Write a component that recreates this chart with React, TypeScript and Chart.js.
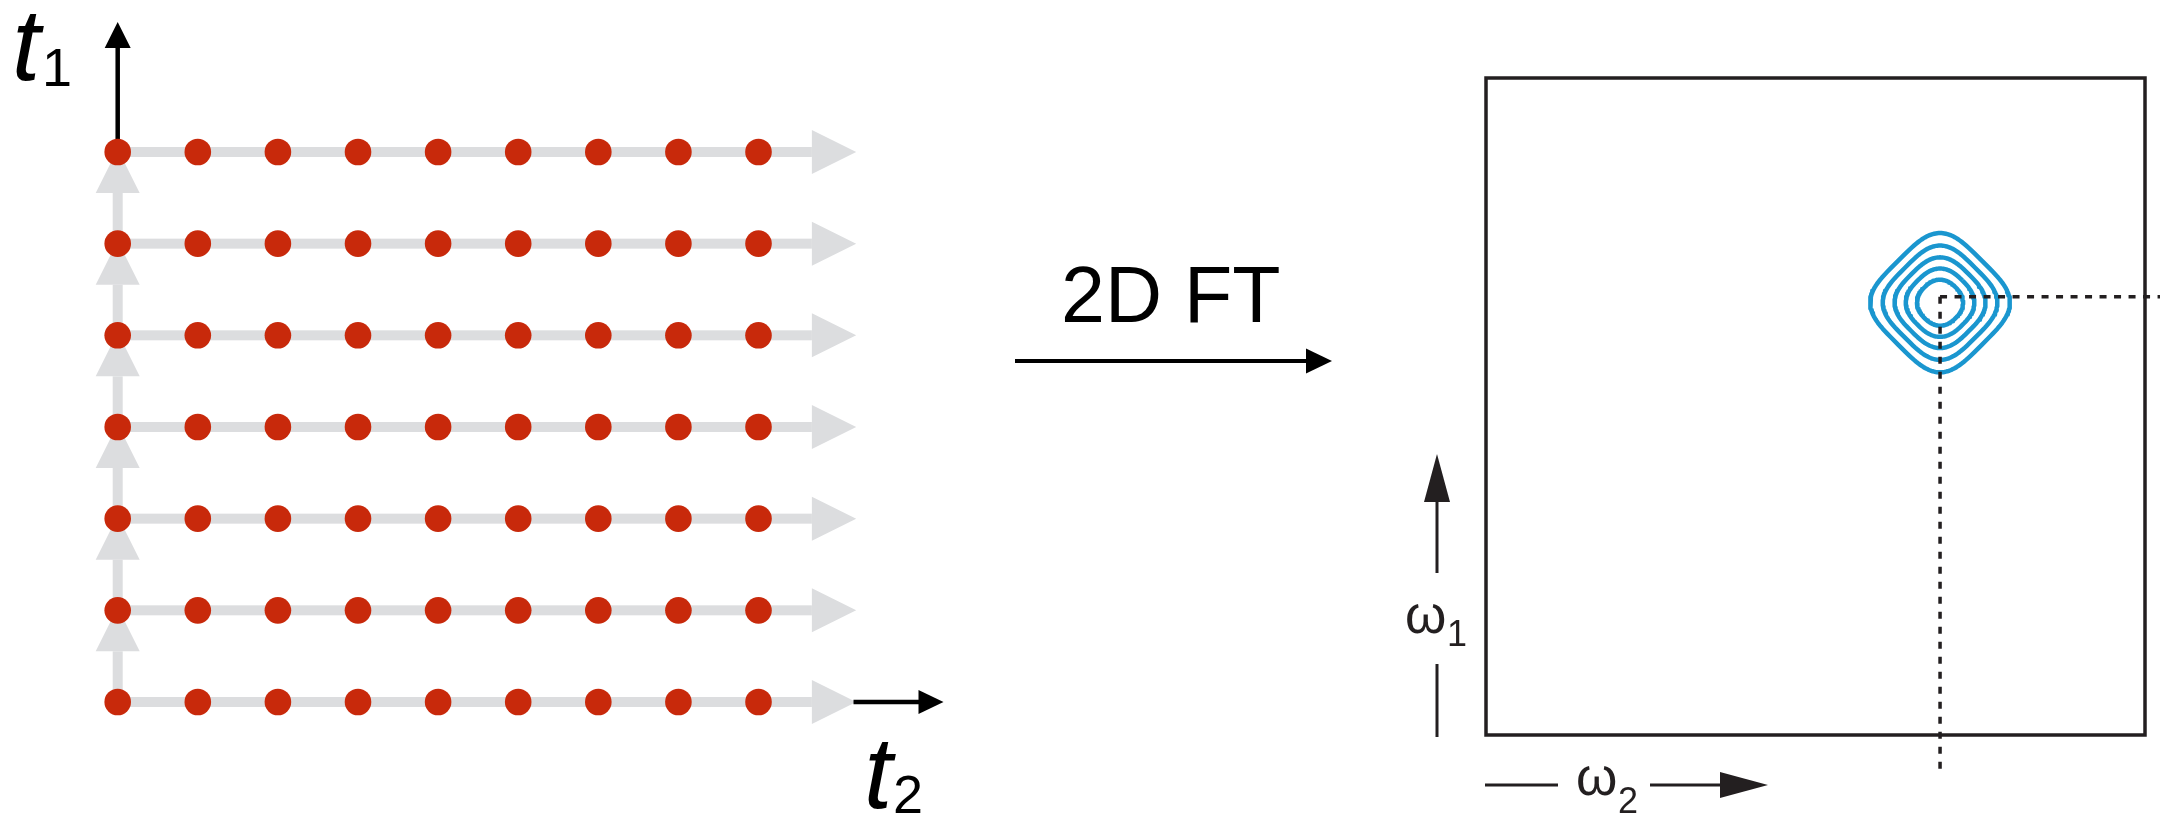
import React, { useEffect, useRef } from "react";
import { Chart, registerables } from "chart.js";

Chart.register(...registerables);

// ---------- data ----------
// sampling grid of the 2D experiment (index along t2, index along t1)
const T2_SAMPLES = [0, 1, 2, 3, 4, 5, 6, 7, 8];
const T1_SAMPLES = [0, 1, 2, 3, 4, 5, 6];

// 2D spectrum (frequency units, box spans 0..10 on both axes)
const W_RANGE = [0, 10];
const PEAK_W2 = 6.89;
const PEAK_W1 = 6.58;
const CROSS_W1 = 6.67;
const CROSS_W2_END = 10.4;
const CROSS_W1_END = -0.57;
// contour levels: half-extent along the axes, and diagonal/axial extent ratio
const CONTOUR_RADII = [0.35, 0.52, 0.69, 0.87, 1.06];
const CONTOUR_DIAGONAL = [0.95, 0.92, 0.89, 0.865, 0.85];

// texts
const LABEL_T = "t";
const LABEL_T1_SUB = "1";
const LABEL_T2_SUB = "2";
const LABEL_FT = "2D FT";
const LABEL_W = "\u03c9";
const LABEL_W1_SUB = "1";
const LABEL_W2_SUB = "2";

// ---------- layout (pixels) ----------
const W = 2160;
const H = 814;
const GRID_X0 = 117.7;
const GRID_DX = 80.1;
const GRID_Y0 = 702;
const GRID_DY = 91.67;
const BOX_LEFT = 1486;
const BOX_RIGHT = 2145;
const BOX_TOP = 78;
const BOX_BOTTOM = 735;

const RED = "#c8290b";
const GRAY = "#dcdddf";
const BLUE = "#1a96cf";
const INK = "#231f20";

// rounded-diamond outline (a superellipse turned by 45 degrees)
function contourPoints(r: number, diag: number) {
  const n = 1 / Math.log2(diag * Math.SQRT2);
  const a = r * diag;
  const e = 2 / n;
  const pts: { x: number; y: number }[] = [];
  const steps = 160;
  for (let i = 0; i <= steps; i++) {
    const p = (i / steps) * Math.PI * 2;
    const c = Math.cos(p);
    const s = Math.sin(p);
    const u = a * Math.sign(c) * Math.pow(Math.abs(c), e);
    const v = a * Math.sign(s) * Math.pow(Math.abs(s), e);
    pts.push({ x: PEAK_W2 + (u - v) / Math.SQRT2, y: PEAK_W1 + (u + v) / Math.SQRT2 });
  }
  return pts;
}

function tri(ctx: CanvasRenderingContext2D, pts: number[][], color: string) {
  ctx.beginPath();
  ctx.moveTo(pts[0][0], pts[0][1]);
  for (let i = 1; i < pts.length; i++) ctx.lineTo(pts[i][0], pts[i][1]);
  ctx.closePath();
  ctx.fillStyle = color;
  ctx.fill();
}

function line(ctx: CanvasRenderingContext2D, x1: number, y1: number, x2: number, y2: number, w: number, color: string) {
  ctx.beginPath();
  ctx.moveTo(x1, y1);
  ctx.lineTo(x2, y2);
  ctx.lineWidth = w;
  ctx.strokeStyle = color;
  ctx.lineCap = "butt";
  ctx.stroke();
}

const diagramPlugin = {
  id: "diagram",
  beforeDatasetsDraw(chart: any) {
    const ctx: CanvasRenderingContext2D = chart.ctx;
    const sx = chart.scales.x;
    const sy = chart.scales.y;
    const lastC = T2_SAMPLES[T2_SAMPLES.length - 1];
    const x0 = sx.getPixelForValue(T2_SAMPLES[0]);
    const xl = sx.getPixelForValue(lastC);
    ctx.save();
    // gray horizontal arrows (t2 acquisition)
    T1_SAMPLES.forEach((r) => {
      const y = sy.getPixelForValue(r);
      ctx.fillStyle = GRAY;
      ctx.fillRect(x0, y - 5, xl + 53.4 - x0, 10);
      tri(ctx, [[xl + 53.4, y - 22], [xl + 97.7, y], [xl + 53.4, y + 22]], GRAY);
    });
    // gray vertical arrows (t1 increments)
    for (let i = 0; i < T1_SAMPLES.length - 1; i++) {
      const yA = sy.getPixelForValue(T1_SAMPLES[i]);
      const yB = sy.getPixelForValue(T1_SAMPLES[i + 1]);
      ctx.fillStyle = GRAY;
      ctx.fillRect(x0 - 5, yB + 41, 10, yA - yB - 41);
      tri(ctx, [[x0 - 22, yB + 41], [x0, yB - 3], [x0 + 22, yB + 41]], GRAY);
    }
    // black t1 axis arrow
    const yTop = sy.getPixelForValue(T1_SAMPLES[T1_SAMPLES.length - 1]);
    line(ctx, x0, yTop, x0, yTop - 106, 4.5, "#000");
    tri(ctx, [[x0 - 13, yTop - 104], [x0, yTop - 130], [x0 + 13, yTop - 104]], "#000");
    // black t2 axis arrow
    const yBot = sy.getPixelForValue(T1_SAMPLES[0]);
    line(ctx, xl + 95, yBot, xl + 162, yBot, 4.5, "#000");
    tri(ctx, [[xl + 160, yBot - 12], [xl + 185, yBot], [xl + 160, yBot + 12]], "#000");
    ctx.restore();
  },
  afterDatasetsDraw(chart: any) {
    const ctx: CanvasRenderingContext2D = chart.ctx;
    const xw = chart.scales.xw;
    const yw = chart.scales.yw;
    ctx.save();
    // spectrum box
    const bl = xw.getPixelForValue(W_RANGE[0]);
    const br = xw.getPixelForValue(W_RANGE[1]);
    const bt = yw.getPixelForValue(W_RANGE[1]);
    const bb = yw.getPixelForValue(W_RANGE[0]);
    ctx.lineWidth = 3.5;
    ctx.strokeStyle = INK;
    ctx.lineJoin = "miter";
    ctx.strokeRect(bl, bt, br - bl, bb - bt);

    // labels t1, t2
    ctx.fillStyle = "#000";
    ctx.textBaseline = "alphabetic";
    ctx.textAlign = "left";
    ctx.font = "italic 102px 'Liberation Sans'";
    ctx.fillText(LABEL_T, 12, 80);
    ctx.fillText(LABEL_T, 864, 808);
    ctx.font = "54px 'Liberation Sans'";
    ctx.fillText(LABEL_T1_SUB, 42, 86);
    ctx.fillText(LABEL_T2_SUB, 893, 813);

    // 2D FT
    ctx.font = "79px 'Liberation Sans'";
    ctx.fillText(LABEL_FT, 1061, 322);
    line(ctx, 1015, 361, 1309, 361, 4, "#000");
    tri(ctx, [[1306, 348.5], [1332, 361], [1306, 373.5]], "#000");

    // omega1 arrow
    const ax = bl - 49;
    ctx.fillStyle = INK;
    line(ctx, ax, 573, ax, 500, 3, INK);
    tri(ctx, [[ax - 13, 502], [ax, 454], [ax + 13, 502]], INK);
    line(ctx, ax, 664, ax, 737, 3, INK);
    ctx.font = "53px 'Liberation Sans'";
    ctx.fillText(LABEL_W, 1405, 633);
    ctx.font = "36px 'Liberation Sans'";
    ctx.fillText(LABEL_W1_SUB, 1447, 646);

    // omega2 arrow
    line(ctx, bl - 1, 785, 1558, 785, 3, INK);
    ctx.font = "53px 'Liberation Sans'";
    ctx.fillText(LABEL_W, 1576, 795);
    ctx.font = "36px 'Liberation Sans'";
    ctx.fillText(LABEL_W2_SUB, 1618, 813);
    line(ctx, 1650, 785, 1722, 785, 3, INK);
    tri(ctx, [[1720, 772], [1768, 785], [1720, 798]], INK);
    ctx.restore();
  },
};

export default function App() {
  const ref = useRef<HTMLCanvasElement | null>(null);

  useEffect(() => {
    document.body.style.margin = "0";
    const canvas = ref.current;
    if (!canvas) return;

    const xMin = -GRID_X0 / GRID_DX;
    const yMin = -(H - GRID_Y0) / GRID_DY;
    const wxUnit = (BOX_RIGHT - BOX_LEFT) / (W_RANGE[1] - W_RANGE[0]);
    const wyUnit = (BOX_BOTTOM - BOX_TOP) / (W_RANGE[1] - W_RANGE[0]);
    const wxMin = W_RANGE[0] - BOX_LEFT / wxUnit;
    const wyMin = W_RANGE[0] - (H - BOX_BOTTOM) / wyUnit;

    const dots = T1_SAMPLES.flatMap((r) => T2_SAMPLES.map((c) => ({ x: c, y: r })));

    const contourSets = CONTOUR_RADII.map((r, i) => ({
      type: "scatter" as const,
      data: contourPoints(r, CONTOUR_DIAGONAL[i]),
      xAxisID: "xw",
      yAxisID: "yw",
      showLine: true,
      pointRadius: 0,
      borderColor: BLUE,
      borderWidth: 4.5,
      borderJoinStyle: "round",
      tension: 0,
      order: 3,
    }));

    const chart = new Chart(canvas, {
      type: "scatter",
      data: {
        datasets: [
          {
            data: dots,
            xAxisID: "x",
            yAxisID: "y",
            pointRadius: 13.3,
            pointBorderWidth: 0,
            backgroundColor: RED,
            borderColor: RED,
            order: 0,
          },
          {
            data: [
              { x: PEAK_W2, y: CROSS_W1 },
              { x: CROSS_W2_END, y: CROSS_W1 },
            ],
            xAxisID: "xw",
            yAxisID: "yw",
            showLine: true,
            pointRadius: 0,
            borderColor: INK,
            borderWidth: 3.5,
            borderDash: [7, 7.5],
            order: 1,
          },
          {
            data: [
              { x: PEAK_W2, y: CROSS_W1 },
              { x: PEAK_W2, y: CROSS_W1_END },
            ],
            xAxisID: "xw",
            yAxisID: "yw",
            showLine: true,
            pointRadius: 0,
            borderColor: INK,
            borderWidth: 3.5,
            borderDash: [7, 8],
            order: 1,
          },
          ...contourSets,
        ] as any,
      },
      options: {
        responsive: false,
        animation: false,
        devicePixelRatio: 1,
        events: [],
        layout: { padding: 0, autoPadding: false },
        plugins: { legend: { display: false }, tooltip: { enabled: false } },
        scales: {
          x: { type: "linear", axis: "x", display: false, min: xMin, max: xMin + W / GRID_DX },
          y: { type: "linear", axis: "y", display: false, min: yMin, max: yMin + H / GRID_DY },
          xw: { type: "linear", axis: "x", display: false, min: wxMin, max: wxMin + W / wxUnit },
          yw: { type: "linear", axis: "y", display: false, min: wyMin, max: wyMin + H / wyUnit },
        } as any,
      },
      plugins: [diagramPlugin],
    });

    return () => chart.destroy();
  }, []);

  return <canvas ref={ref} width={W} height={H} style={{ display: "block" }} />;
}
